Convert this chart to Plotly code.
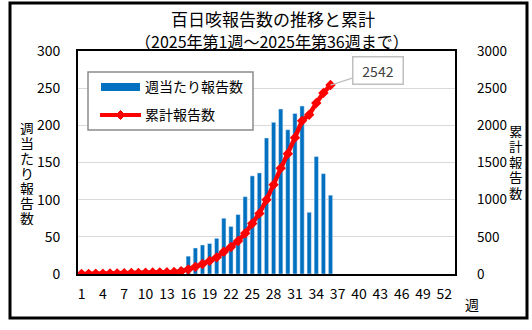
import plotly.graph_objects as go
import numpy as np

weeks = list(range(1, 37))
weekly = [1, 1, 2, 1, 2, 2, 1, 3, 2, 2, 3, 2, 3, 3, 9,
          24, 35, 39, 41, 48, 75, 64, 80, 104, 132, 136, 183, 204, 222,
          194, 216, 226, 83, 158, 135, 106]
cumulative = list(np.cumsum(weekly))
xtick_vals = list(range(1, 53, 3))
y1_ticks = [0, 50, 100, 150, 200, 250, 300]
y2_ticks = [0, 500, 1000, 1500, 2000, 2500, 3000]

title = "百日咳報告数の推移と累計"
subtitle = "（2025年第1週～2025年第36週まで）"
name_bar = "週当たり報告数"
name_line = "累計報告数"

FONT = "Noto Sans CJK JP, Noto Sans, sans-serif"
L, R, T, B = 78, 455, 51, 274
W, H = R - L, B - T


def px(x):
    return (x - L) / W


def py(y):
    return (B - y) / H


fig = go.Figure()
fig.add_trace(go.Bar(x=weeks, y=weekly, marker_color="#0070C0", width=0.6,
                     name=name_bar, yaxis="y"))
fig.add_trace(go.Scatter(x=weeks, y=cumulative, mode="lines+markers",
                         line=dict(color="#FF0000", width=4.5),
                         marker=dict(symbol="diamond", size=8, color="#FF0000"),
                         name=name_line, yaxis="y2"))

shapes = []
shapes.append(dict(type="rect", xref="paper", yref="paper",
                   x0=px(10), x1=px(527), y0=py(318), y1=py(3),
                   line=dict(color="black", width=3), layer="above"))
shapes.append(dict(type="rect", xref="paper", yref="paper",
                   x0=px(88), x1=px(253), y0=py(130), y1=py(72),
                   line=dict(color="#8C8C8C", width=1.5), fillcolor="white", layer="above"))
shapes.append(dict(type="rect", xref="paper", yref="paper",
                   x0=px(101), x1=px(140), y0=py(91), y1=py(83),
                   line=dict(width=0), fillcolor="#0070C0", layer="above"))
shapes.append(dict(type="line", xref="paper", yref="paper",
                   x0=px(100), x1=px(141), y0=py(115), y1=py(115),
                   line=dict(color="#FF0000", width=4), layer="above"))
cx, cy, s = 120.5, 115, 4.5
path = "M {},{} L {},{} L {},{} L {},{} Z".format(
    px(cx), py(cy - s), px(cx + s), py(cy), px(cx), py(cy + s), px(cx - s), py(cy))
shapes.append(dict(type="path", xref="paper", yref="paper", path=path,
                   fillcolor="#FF0000", line=dict(color="#FF0000", width=1), layer="above"))


def label(text, x, y, size=14, xanchor="center", color="black", height=None):
    d = dict(text=text, x=px(x), y=py(y), xref="paper", yref="paper",
             xanchor=xanchor, yanchor="middle", showarrow=False,
             font=dict(size=size, color=color, family=FONT))
    if height is not None:
        d["height"] = height
    return d


ann = []
ann.append(label(title, 273, 18, size=17))
ann.append(label(subtitle, 272, 41, size=16))
ann.append(label(name_bar, 143, 86, xanchor="left"))
ann.append(label(name_line, 143, 114, xanchor="left"))
for i, ch in enumerate(name_bar):
    ann.append(label(ch, 27, 127.5 + 15 * i, height=15))
for i, ch in enumerate(name_line):
    ann.append(label(ch, 516, 130.5 + 15.4 * i, size=13.5, height=15))
ann.append(label("週", 472, 304))
ann.append(dict(text=str(cumulative[-1]), x=weeks[-1], y=cumulative[-1], xref="x", yref="y2",
                showarrow=True, arrowhead=0, arrowcolor="#BFBFBF", arrowwidth=1.3,
                ax=47, ay=-15, standoff=0,
                bordercolor="#BFBFBF", borderwidth=1.5, borderpad=3, bgcolor="white",
                width=43, height=20,
                font=dict(size=14, color="#404040", family=FONT)))

fig.update_layout(
    width=532, height=330,
    margin=dict(l=L, r=532 - R, t=T, b=330 - B),
    paper_bgcolor="white", plot_bgcolor="white",
    showlegend=False, bargap=0.4,
    font=dict(family=FONT, size=14, color="black"),
    xaxis=dict(range=[0.5, 53.5], tickmode="array", tickvals=xtick_vals,
               showgrid=False, showline=True, linecolor="black", linewidth=2, mirror=True,
               ticks="", ticklabelstandoff=6, zeroline=False,
               tickfont=dict(size=14, family=FONT)),
    yaxis=dict(range=[0, 300], tickmode="array", tickvals=y1_ticks,
               showgrid=True, gridcolor="#D9D9D9", gridwidth=1,
               showline=True, linecolor="black", linewidth=2, mirror=True,
               ticks="", ticklabelstandoff=13, zeroline=False,
               tickfont=dict(size=14, family=FONT)),
    yaxis2=dict(range=[0, 3000], tickmode="array", tickvals=y2_ticks,
                overlaying="y", side="right", showgrid=False, showline=False,
                ticks="", ticklabelstandoff=21, zeroline=False,
                tickfont=dict(size=13.5, family=FONT)),
    shapes=shapes, annotations=ann,
)

fig.write_html("out.html")
